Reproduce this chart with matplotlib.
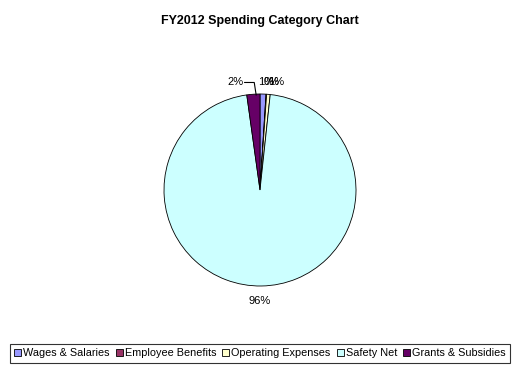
import matplotlib.pyplot as plt

plt.rcParams['font.family'] = ['Liberation Sans', 'DejaVu Sans']

categories = ["Wages & Salaries", "Employee Benefits", "Operating Expenses",
              "Safety Net", "Grants & Subsidies"]
shares = [1.0, 0.1, 0.6, 96.1, 2.2]
pct_labels = ["1%", "0%", "1%", "96%", "2%"]
colors = ["#9999FF", "#993366", "#FFFFCC", "#CCFFFF", "#660066"]

fig = plt.figure(figsize=(5.2, 3.73), dpi=100)
ax = fig.add_axes([0.5 - 96 / 520, 1 - 286 / 373, 192 / 520, 192 / 373])

wedges, texts = ax.pie(shares, colors=colors, startangle=90, counterclock=False,
                       labels=pct_labels, labeldistance=1.1,
                       wedgeprops=dict(edgecolor="black", linewidth=0.6),
                       textprops=dict(fontsize=8))
ax.set_aspect("equal")
ax.set_xlim(-1, 1)
ax.set_ylim(-1, 1)

# leader line for the grants slice
texts[4].set_position((-0.17, 1.12))
texts[4].set_ha("right")
ax.plot([-0.16, -0.06, -0.04], [1.12, 1.12, 0.99], color="black", lw=0.8,
        clip_on=False)
texts[0].set_position((-0.02, 1.12))
texts[1].set_position((0.04, 1.12))
texts[2].set_position((0.08, 1.12))
for t in texts[:3]:
    t.set_ha("left")
texts[3].set_position((0.0, -1.16))
texts[3].set_ha("center")

fig.text(0.5, 1 - 21 / 373, "FY2012 Spending Category Chart", ha="center",
         va="center", fontsize=9, fontweight="bold")

leg = fig.legend(wedges, categories, loc="center", ncol=5,
                 bbox_to_anchor=(0.5, 1 - 353.5 / 373), fontsize=7.8,
                 frameon=True, fancybox=False, handlelength=0.65, handleheight=0.65,
                 handletextpad=0.2, columnspacing=0.55, borderpad=0.4)
leg.get_frame().set_edgecolor("black")
leg.get_frame().set_linewidth(0.8)

fig.savefig("out.png", dpi=100)
